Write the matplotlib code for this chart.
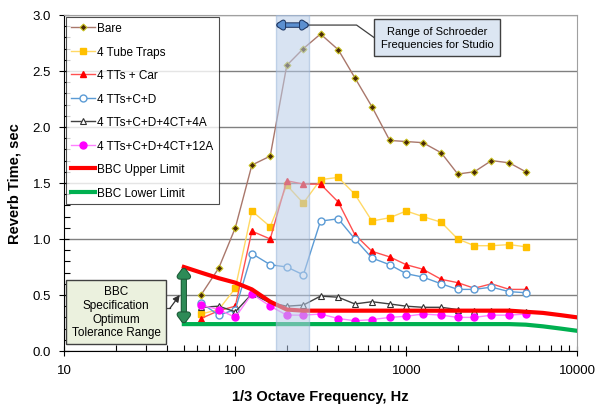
import matplotlib
matplotlib.use('Agg')
import matplotlib.pyplot as plt
import matplotlib.patheffects as pe
from matplotlib.ticker import FixedLocator, FormatStrFormatter, MultipleLocator, LogLocator, NullFormatter

plt.rcParams['font.family'] = ['Liberation Sans', 'DejaVu Sans']

freqs = [63, 80, 100, 125, 160, 200, 250, 315, 400, 500, 630, 800, 1000,
         1250, 1600, 2000, 2500, 3150, 4000, 5000]

bare = [0.50, 0.74, 1.10, 1.66, 1.74, 2.55, 2.70, 2.83, 2.69, 2.44, 2.18, 1.88,
        1.87, 1.86, 1.77, 1.58, 1.60, 1.70, 1.68, 1.60]
tube_traps = [0.33, 0.37, 0.56, 1.25, 1.11, 1.48, 1.32, 1.53, 1.55, 1.40, 1.16,
              1.19, 1.25, 1.20, 1.15, 1.00, 0.94, 0.94, 0.95, 0.93]
tts_car = [0.29, 0.36, 0.40, 1.07, 1.00, 1.52, 1.49, 1.49, 1.33, 1.04, 0.89,
           0.84, 0.77, 0.73, 0.64, 0.61, 0.56, 0.60, 0.55, 0.55]
tts_cd = [0.43, 0.32, 0.37, 0.87, 0.77, 0.75, 0.68, 1.16, 1.18, 1.00, 0.83,
          0.77, 0.69, 0.66, 0.60, 0.55, 0.55, 0.57, 0.53, 0.52]
tts_4a = [0.39, 0.40, 0.35, 0.51, 0.43, 0.40, 0.41, 0.49, 0.48, 0.42, 0.44,
          0.42, 0.40, 0.39, 0.39, 0.37, 0.36, 0.36, 0.36, 0.35]
tts_12a = [0.41, 0.37, 0.30, 0.51, 0.40, 0.32, 0.32, 0.33, 0.29, 0.27, 0.28,
           0.30, 0.31, 0.33, 0.32, 0.30, 0.30, 0.32, 0.32, 0.33]

bbc_freqs = [50, 63, 80, 100, 125, 160, 200, 250, 4000, 5000, 6300, 8000, 10000]
bbc_upper = [0.75, 0.70, 0.65, 0.61, 0.55, 0.44, 0.37, 0.36, 0.36, 0.35, 0.34, 0.32, 0.30]
bbc_lower = [0.24, 0.24, 0.24, 0.24, 0.24, 0.24, 0.24, 0.24, 0.24, 0.235, 0.22, 0.20, 0.18]

schroeder = (173, 270)

fig = plt.figure(figsize=(6.07, 4.10), dpi=100)
ax = fig.add_axes([0.106, 0.1415, 0.845, 0.8195])

ax.plot(freqs, bare, color='#a9776b', lw=1, marker='D', ms=3.5, mfc='#4a2a08',
        mec='#c8c020', mew=0.8, label='Bare', zorder=3)
ax.plot(freqs, tube_traps, color='#ffd966', lw=1, marker='s', ms=5, mfc='#ffc000',
        mec='#ffc000', label='4 Tube Traps', zorder=3)
ax.plot(freqs, tts_car, color='#ff5050', lw=1, marker='^', ms=5, mfc='#ff0000',
        mec='#ff0000', label='4 TTs + Car', zorder=3)
ax.plot(freqs, tts_cd, color='#5b9bd5', lw=1, marker='o', ms=5, mfc='white',
        mec='#5b9bd5', label='4 TTs+C+D', zorder=3)
ax.plot(freqs, tts_4a, color='#404040', lw=1, marker='^', ms=5, mfc='white',
        mec='#303030', mew=0.8, label='4 TTs+C+D+4CT+4A', zorder=3)
ax.plot(freqs, tts_12a, color='#ff80ff', lw=1, marker='o', ms=5, mfc='#ff00ff',
        mec='#ff00ff', label='4 TTs+C+D+4CT+12A', zorder=3)
ax.plot(bbc_freqs, bbc_upper, color='#ff0000', lw=3, label='BBC Upper Limit', zorder=4)
ax.plot(bbc_freqs, bbc_lower, color='#00b050', lw=3, label='BBC Lower Limit', zorder=4)

ax.axvspan(schroeder[0], schroeder[1], facecolor='#b8cce8', alpha=0.55,
           edgecolor='#9ab5da', lw=1, zorder=5)

ax.set_xscale('log')
ax.set_xlim(10, 10000)
ax.set_ylim(0, 3.0)
ax.xaxis.set_major_locator(FixedLocator([10, 100, 1000, 10000]))
ax.set_xticklabels(['10', '100', '1000', '10000'])
ax.xaxis.set_minor_locator(LogLocator(base=10, subs=range(2, 10)))
ax.xaxis.set_minor_formatter(NullFormatter())
ax.yaxis.set_major_locator(MultipleLocator(0.5))
ax.yaxis.set_minor_locator(MultipleLocator(0.1))
ax.yaxis.set_major_formatter(FormatStrFormatter('%.1f'))
ax.tick_params(which='major', direction='inout', length=7, width=0.8, labelsize=9.5, pad=6)
ax.tick_params(which='minor', direction='in', length=4, width=0.8)
ax.grid(axis='y', which='major', color='#808080', lw=1)
for s in ['top', 'right']:
    ax.spines[s].set_color('#a0a0a0')

ax.set_xlabel('1/3 Octave Frequency, Hz', fontsize=10.5, fontweight='bold', labelpad=9)
ax.set_ylabel('Reverb Time, sec', fontsize=10.5, fontweight='bold', labelpad=8)

leg = ax.legend(loc='upper left', bbox_to_anchor=(0.0, 1.0), fontsize=8.5, frameon=True,
                fancybox=False, edgecolor='#202020', handlelength=2.0, handletextpad=0.2,
                labelspacing=0.98, borderaxespad=0.15, borderpad=0.45)
leg.get_frame().set_linewidth(0.8)
leg.set_zorder(10)

# Schroeder range arrow and callout
ax.annotate('', xy=(schroeder[0], 2.91), xytext=(schroeder[1], 2.91),
            arrowprops=dict(arrowstyle='<|-|>,head_length=0.3,head_width=0.2',
                            color='#5b8fd0', lw=2.5,
                            path_effects=[pe.Stroke(linewidth=4, foreground='#1f3864'), pe.Normal()],
                            shrinkA=0, shrinkB=0), zorder=8)
ax.plot([schroeder[1], 512, 653], [2.91, 2.91, 2.795], color='#404040', lw=0.9, zorder=7)
ax.text(1510, 2.80, 'Range of Schroeder\nFrequencies for Studio', ha='center', va='center',
        fontsize=8, linespacing=1.4, zorder=9,
        bbox=dict(boxstyle='square,pad=0.6', fc='#dce6f2', ec='#404040', lw=1))

# BBC tolerance arrow and callout
ax.annotate('', xy=(50, 0.245), xytext=(50, 0.745),
            arrowprops=dict(arrowstyle='<|-|>,head_length=0.4,head_width=0.3',
                            color='#2e8b57', lw=3,
                            path_effects=[pe.Stroke(linewidth=4.5, foreground='#1e5a38'), pe.Normal()],
                            shrinkA=0, shrinkB=0), zorder=8)
ax.plot([36, 41.4], [0.38, 0.38], color='#404040', lw=0.9, zorder=7)
ax.annotate('', xy=(47.3, 0.50), xytext=(41.4, 0.38),
            arrowprops=dict(arrowstyle='-|>,head_length=0.4,head_width=0.2',
                            color='#303030', lw=0.9, shrinkA=0, shrinkB=0), zorder=7)
ax.text(20.1, 0.35, 'BBC\nSpecification\nOptimum\nTolerance Range', ha='center', va='center',
        fontsize=8.5, linespacing=1.2, zorder=9,
        bbox=dict(boxstyle='square,pad=0.45', fc='#ebf1de', ec='#404040', lw=1))

fig.savefig('out.png', dpi=100)
